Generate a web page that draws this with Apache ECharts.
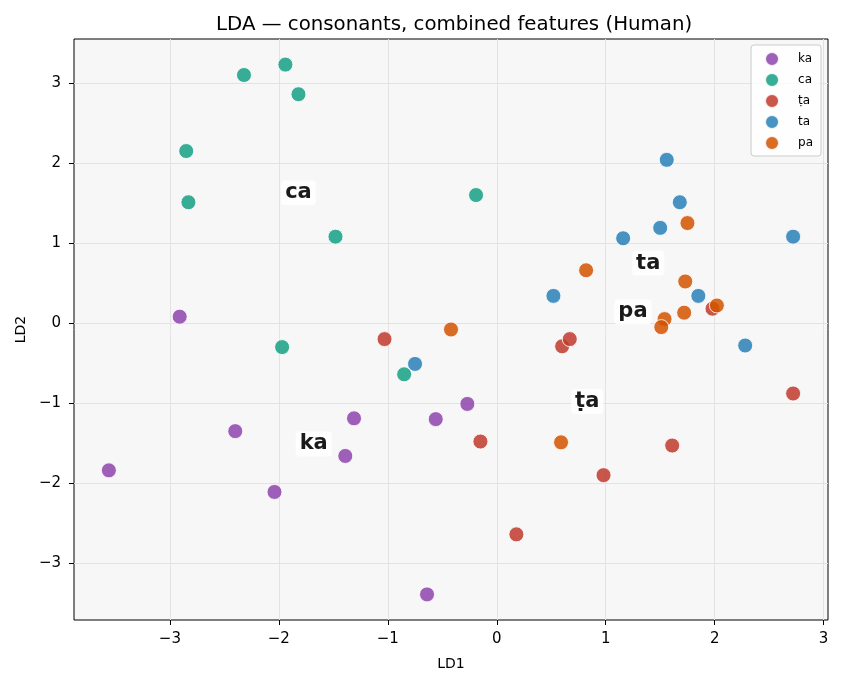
<!DOCTYPE html>
<html>
<head>
<meta charset="utf-8">
<script src="https://cdn.jsdelivr.net/npm/echarts@6/dist/echarts.min.js"></script>
<style>
  html, body { margin: 0; padding: 0; background: #fff; }
  #main { width: 842px; height: 686px; }
</style>
</head>
<body>
<div id="main"></div>
<script>
// 各辅音的LDA投影点 [LD1, LD2]
var classNames = ['ka', 'ca', 'ṭa', 'ta', 'pa'];
var classColors = ['#8e44ad', '#16a085', '#c0392b', '#2980b9', '#d35400'];

var kaPoints = [[-3.56, -1.84], [-2.91, 0.08], [-2.40, -1.35], [-2.04, -2.11], [-1.39, -1.66],
                [-1.31, -1.19], [-0.56, -1.20], [-0.27, -1.01], [-0.64, -3.39]];
var caPoints = [[-2.32, 3.10], [-1.94, 3.23], [-1.82, 2.86], [-2.85, 2.15], [-2.83, 1.51],
                [-1.48, 1.08], [-0.19, 1.60], [-1.97, -0.30], [-0.85, -0.64]];
var tdotPoints = [[-1.03, -0.20], [-0.15, -1.48], [0.18, -2.64], [0.60, -0.29], [0.67, -0.20],
                  [0.98, -1.90], [1.61, -1.53], [1.98, 0.18], [2.72, -0.88]];
var taPoints = [[-0.75, -0.51], [0.52, 0.34], [1.16, 1.06], [1.50, 1.19], [1.56, 2.04],
                [1.68, 1.51], [1.85, 0.34], [2.28, -0.28], [2.72, 1.08]];
var paPoints = [[-0.42, -0.08], [0.82, 0.66], [0.59, -1.49], [1.75, 1.25], [1.73, 0.52],
                [1.72, 0.13], [1.54, 0.05], [1.51, -0.05], [2.02, 0.22]];

// 类中心标签
var centroidNames = ['ka', 'ca', 'ṭa', 'ta', 'pa'];
var centroidPoints = [[-1.68, -1.51], [-1.82, 1.63], [0.83, -0.98], [1.39, 0.75], [1.25, 0.14]];

var xTicks = [-3, -2, -1, 0, 1, 2, 3];
var yTicks = [-3, -2, -1, 0, 1, 2, 3];

var allPoints = [kaPoints, caPoints, tdotPoints, taPoints, paPoints];

var myChart = echarts.init(document.getElementById('main'));

function minus(v) {
	return String(v).replace('-', '\u2212');
}

var series = [];
for (var i = 0; i < classNames.length; i++) {
	series.push({
		name : classNames[i],
		type : 'scatter',
		data : allPoints[i],
		symbol : 'circle',
		symbolSize : 15,
		itemStyle : {
			color : classColors[i],
			opacity : 0.85,
			borderColor : '#fff',
			borderWidth : 1
		},
		z : 3
	});
}

series.push({
	name : 'centroids',
	type : 'scatter',
	silent : true,
	symbolSize : 1,
	itemStyle : { color : '#ffffff', opacity : 1 },
	data : centroidPoints.map(function(p, k) {
		return { name : centroidNames[k], value : p };
	}),
	label : {
		show : true,
		position : 'inside',
		formatter : '{b}',
		fontFamily : 'DejaVu Sans',
		fontWeight : 'bold',
		fontSize : 21,
		color : '#1a1a1a',
		opacity : 1,
		textBorderWidth : 0,
		backgroundColor : 'rgba(255,255,255,0.85)',
		padding : [2, 4, 2, 4],
		borderRadius : 4
	},
	z : 5
});

var option = {
	animation : false,
	backgroundColor : '#fff',
	textStyle : { fontFamily : 'DejaVu Sans' },
	title : {
		text : 'LDA — consonants, combined features (Human)',
		left : 211,
		top : 10,
		textStyle : {
			fontFamily : 'DejaVu Sans',
			fontSize : 19.8,
			fontWeight : 'normal',
			color : '#000'
		}
	},
	legend : {
		data : classNames,
		orient : 'vertical',
		right : 21,
		top : 45,
		icon : 'circle',
		itemWidth : 14,
		itemHeight : 14,
		itemGap : 5,
		padding : [6, 8, 5, 13],
		backgroundColor : 'rgba(255,255,255,0.8)',
		borderColor : '#cccccc',
		borderWidth : 1,
		borderRadius : 3,
		textStyle : {
			fontFamily : 'DejaVu Sans',
			fontSize : 12,
			color : '#000',
			padding : [0, 0, 0, 14]
		}
	},
	grid : {
		left : 74,
		right : 14,
		top : 39,
		bottom : 66,
		show : true,
		backgroundColor : '#f7f7f7',
		borderColor : '#000',
		borderWidth : 1
	},
	xAxis : {
		type : 'value',
		min : -3.88,
		max : 3.04,
		name : 'LD1',
		nameLocation : 'middle',
		nameGap : 37,
		nameTextStyle : { fontSize : 14, color : '#000' },
		axisLine : { show : false, onZero : false },
		axisTick : { show : true, length : 5, customValues : xTicks, lineStyle : { color : '#000' } },
		axisLabel : {
			customValues : xTicks,
			fontSize : 15,
			color : '#000',
			margin : 12,
			formatter : minus
		},
		splitLine : { show : true, lineStyle : { color : '#e3e3e3', width : 1 } }
	},
	yAxis : {
		type : 'value',
		min : -3.71,
		max : 3.55,
		name : 'LD2',
		nameLocation : 'middle',
		nameGap : 46,
		nameTextStyle : { fontSize : 14, color : '#000' },
		axisLine : { show : false, onZero : false },
		axisTick : { show : true, length : 5, customValues : yTicks, lineStyle : { color : '#000' } },
		axisLabel : {
			customValues : yTicks,
			fontSize : 15,
			color : '#000',
			margin : 13,
			formatter : minus
		},
		splitLine : { show : true, lineStyle : { color : '#e3e3e3', width : 1 } }
	},
	series : series
};

myChart.setOption(option);
</script>
</body>
</html>
